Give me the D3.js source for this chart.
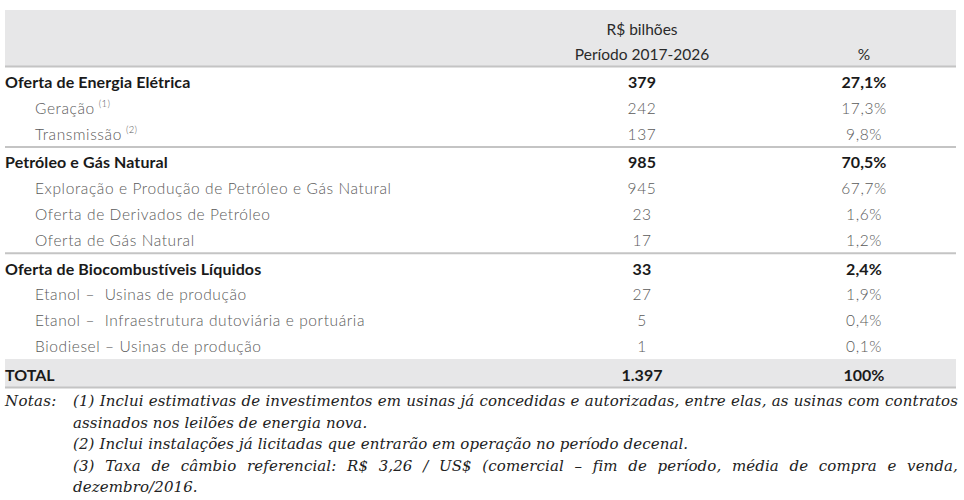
<!DOCTYPE html>
<html><head><meta charset="utf-8">
<script src="https://cdn.jsdelivr.net/npm/d3@7"></script>
<style>body{margin:0;background:#fff} text{white-space:pre}</style>
</head><body>
<svg id="c" width="964" height="500"></svg>
<script>
// ---- data ----
const labels = ["Oferta de Energia Elétrica","Geração","Transmissão","Petróleo e Gás Natural",
  "Exploração e Produção de Petróleo e Gás Natural","Oferta de Derivados de Petróleo","Oferta de Gás Natural",
  "Oferta de Biocombustíveis Líquidos","Etanol –  Usinas de produção","Etanol –  Infraestrutura dutoviária e portuária",
  "Biodiesel – Usinas de produção"];
const levels = [0,1,1,0,1,1,1,0,1,1,1];
const groups = [0,0,0,1,1,1,1,2,2,2,2];
const footnotes = ["","(1)","(2)","","","","","","","",""];
const values = [379,242,137,985,945,23,17,33,27,5,1];
const shares = [27.1,17.3,9.8,70.5,67.7,1.6,1.2,2.4,1.9,0.4,0.1];
const totalLabel = "TOTAL";
const totalValue = 1397;
const totalShare = 100;
const headerValue = ["R$ bilhões","Período 2017-2026"];
const headerShare = "%";
const notesLabel = "Notas:";
const notes = [
  {text:"(1) Inclui estimativas de investimentos em usinas já concedidas e autorizadas, entre elas, as usinas com contratos", justify:true},
  {text:"assinados nos leilões de energia nova.", justify:false},
  {text:"(2) Inclui instalações já licitadas que entrarão em operação no período decenal.", justify:false},
  {text:"(3) Taxa de câmbio referencial: R$ 3,26 / US$ (comercial – fim de período, média de compra e venda,", justify:true},
  {text:"dezembro/2016.", justify:false}
];

// ---- setup ----
const svg = d3.select("#c");
const loc = d3.formatLocale({decimal:",", thousands:".", grouping:[3], currency:["R$",""]});
const fmtInt = loc.format(",d");
const fmtPct = v => v === 100 ? "100%" : loc.format(".1f")(v) + "%";

const left = 5, right = 956;
const colValue = 642, colShare = 864;
const rowH = 25.8, groupGap = 3, y0 = 88;
const y = d3.scaleLinear().domain([0, 1]).range([y0, y0 + rowH]);
const baseline = (i, g) => y(i) + g * groupGap;

const sans = "Lato, 'Open Sans', sans-serif";
const serif = "'DejaVu Serif', serif";
const fsBold = 16, fsLight = 15.5;
const cBold = "#1a1a1a", cLight = "#5a5a5a";

// header band
svg.append("rect").attr("x", left).attr("y", 10).attr("width", right-left).attr("height", 56).attr("fill", "#e7e7e8");
svg.append("line").attr("x1", left).attr("x2", right).attr("y1", 66.5).attr("y2", 66.5).attr("stroke", "#c4c4c4").attr("stroke-width", 2);
svg.selectAll("text.hv").data(headerValue).join("text").attr("class","hv")
  .attr("x", colValue).attr("y", (d,i) => 35 + i*25).attr("text-anchor","middle")
  .attr("font-family", sans).attr("font-size", 15.5).attr("fill", "#2a2a2a").text(d => d);
svg.append("text").attr("x", colShare).attr("y", 60).attr("text-anchor","middle")
  .attr("font-family", sans).attr("font-size", 15.5).attr("fill", "#2a2a2a").text(headerShare);

// separators between groups
const sepIdx = [3, 7];
svg.selectAll("line.sep").data(sepIdx).join("line").attr("class","sep")
  .attr("x1", left).attr("x2", right)
  .attr("y1", i => baseline(i-1, groups[i-1]) + 7.5).attr("y2", i => baseline(i-1, groups[i-1]) + 7.5)
  .attr("stroke", "#c4c4c4").attr("stroke-width", 2);

// rows
const rows = labels.map((l, i) => ({label:l, level:levels[i], fn:footnotes[i], value:values[i], share:shares[i], y: baseline(i, groups[i])}));
const styleRow = sel => sel.attr("font-family", sans)
  .attr("font-size", d => d.level ? fsLight : fsBold)
  .attr("font-weight", d => d.level ? 300 : 700)
  .attr("letter-spacing", d => d.level ? 0.6 : 0.1)
  .attr("fill", d => d.level ? cLight : cBold);
const g = svg.append("g");
const lab = g.selectAll("text.lab").data(rows).join("text").attr("class","lab")
  .attr("x", d => d.level ? 35 : left).attr("y", d => d.y).call(styleRow);
lab.append("tspan").text(d => d.label);
lab.filter(d => d.fn).append("tspan").attr("dx", 4).attr("dy", -7).attr("font-size", 9.5).attr("letter-spacing", 0.3).text(d => d.fn);

g.selectAll("text.val").data(rows).join("text").attr("class","val")
  .attr("x", colValue).attr("y", d => d.y).attr("text-anchor","middle").call(styleRow).text(d => fmtInt(d.value));
g.selectAll("text.shr").data(rows).join("text").attr("class","shr")
  .attr("x", colShare).attr("y", d => d.y).attr("text-anchor","middle").call(styleRow).text(d => fmtPct(d.share));

// total band
const ty = baseline(labels.length, 3);
svg.append("rect").attr("x", left).attr("y", 359).attr("width", right-left).attr("height", 28).attr("fill", "#e7e7e8");
svg.append("line").attr("x1", left).attr("x2", right).attr("y1", 387.5).attr("y2", 387.5).attr("stroke", "#c4c4c4").attr("stroke-width", 2);
const tot = [{t:totalLabel, x:left, a:"start"}, {t:fmtInt(totalValue), x:colValue, a:"middle"}, {t:fmtPct(totalShare), x:colShare, a:"middle"}];
svg.selectAll("text.tot").data(tot).join("text").attr("class","tot")
  .attr("x", d => d.x).attr("y", ty).attr("text-anchor", d => d.a)
  .attr("font-family", sans).attr("font-size", fsBold).attr("font-weight", 700).attr("fill", cBold).text(d => d.t);

// notes
const nx = 73, nRight = 958, nY0 = 406, nLH = 21.6;
const nfs = 15, nls = 0.1;
const noteText = sel => sel.attr("font-family", serif).attr("font-style","italic").attr("font-size", nfs)
  .attr("letter-spacing", nls).attr("fill","#222");
svg.append("text").attr("x", left).attr("y", nY0).call(noteText).attr("letter-spacing", 0.3).text(notesLabel);
notes.forEach((n, li) => {
  const yy = nY0 + li * nLH;
  if (!n.justify) {
    svg.append("text").attr("x", nx).attr("y", yy).call(noteText).text(n.text);
    return;
  }
  const words = n.text.split(" ");
  const tmp = svg.selectAll(null).data(words).join("text").call(noteText).attr("y", yy).text(d => d);
  const widths = tmp.nodes().map(t => t.getComputedTextLength());
  const total = d3.sum(widths);
  const gap = Math.max(2.5, (nRight - nx - total) / (words.length - 1));
  let cx = nx;
  tmp.each(function(d, i){ d3.select(this).attr("x", cx); cx += widths[i] + gap; });
});
</script>
</body></html>
